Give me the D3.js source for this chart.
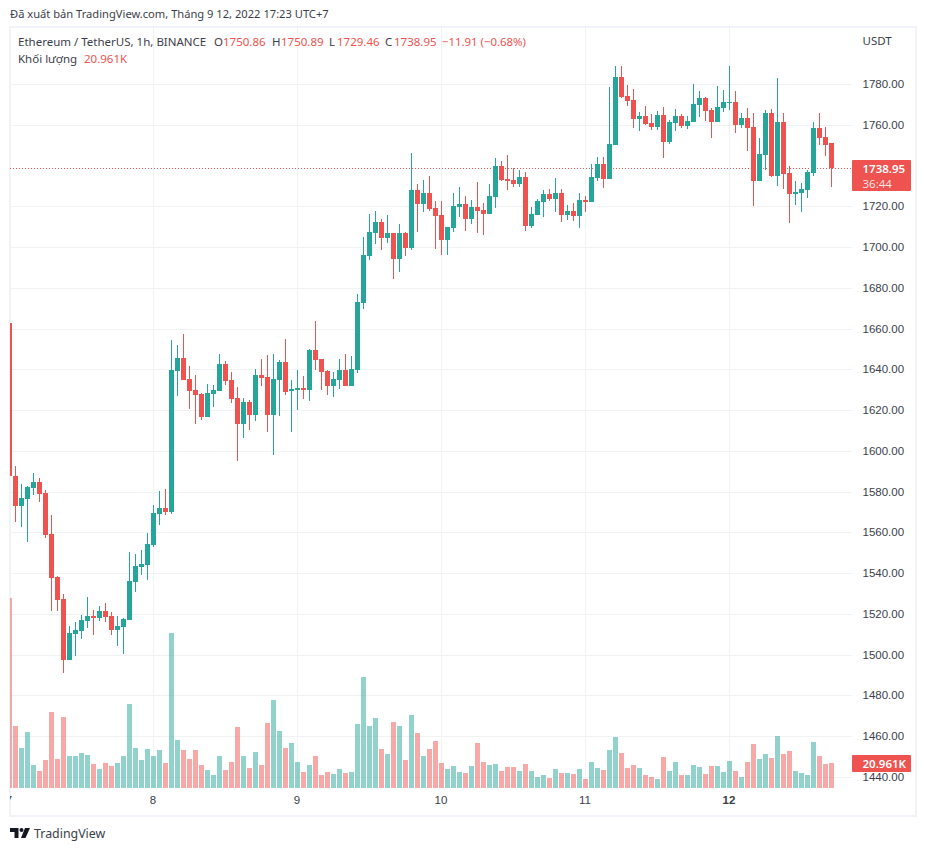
<!DOCTYPE html>
<html>
<head>
<meta charset="utf-8">
<script src="https://d3js.org/d3.v7.min.js"></script>
<style>
  html, body { margin: 0; padding: 0; background: #fff; }
  svg { display: block; font-family: "Noto Sans", sans-serif; }
  .axis path { display: none; }
  .axis line { stroke: #f1f2f4; }
  .axis text { fill: #3b3e49; font-size: 11.5px; }
</style>
</head>
<body>
<svg id="chart" width="926" height="851"></svg>
<script>
const opens = [
  1662.8, 1587.8, 1572.7, 1576.5, 1581.9, 1584.8, 1579.4, 1559.3, 1538.2, 1527.4,
  1497.5, 1510.3, 1511.8, 1516.7, 1519.1, 1518.1, 1521.6, 1519.1, 1512.2, 1513.7,
  1517.2, 1535.8, 1543.1, 1544.1, 1553.9, 1569.1, 1572.1, 1570.1, 1639.3, 1645.6,
  1635.3, 1629.9, 1628.0, 1616.7, 1628.0, 1629.4, 1642.7, 1634.8, 1626.0, 1613.3,
  1624.1, 1617.7, 1637.3, 1636.3, 1617.7, 1634.8, 1643.7, 1629.4, 1629.9, 1630.9,
  1629.9, 1649.6, 1645.1, 1639.3, 1631.9, 1634.8, 1639.8, 1631.9, 1639.7, 1672.6,
  1695.7, 1706.9, 1712.3, 1704.5, 1706.9, 1694.2, 1706.9, 1699.6, 1728.0, 1721.2,
  1726.5, 1719.2, 1715.8, 1703.5, 1709.4, 1719.7, 1721.2, 1713.8, 1719.7, 1718.2,
  1716.2, 1724.6, 1739.8, 1733.4, 1732.9, 1731.0, 1734.4, 1710.4, 1715.8, 1722.1,
  1726.0, 1723.6, 1726.5, 1715.8, 1717.7, 1715.3, 1723.1, 1722.1, 1733.9, 1740.8,
  1733.4, 1750.1, 1783.4, 1774.1, 1772.2, 1762.8, 1764.3, 1760.9, 1758.9, 1764.8,
  1751.5, 1760.9, 1764.3, 1759.4, 1761.4, 1769.7, 1773.1, 1767.3, 1761.4, 1768.2,
  1770.7, 1771.2, 1759.9, 1763.3, 1758.9, 1732.4, 1745.2, 1765.8, 1734.9, 1761.4,
  1736.4, 1726.0, 1726.5, 1728.0, 1736.4, 1758.4, 1754.0, 1750.86
];
const closes = [
  1587.5, 1572.7, 1577.0, 1582.4, 1584.8, 1578.9, 1558.8, 1537.7, 1526.9, 1497.5,
  1510.8, 1512.2, 1517.2, 1519.1, 1518.1, 1521.6, 1518.6, 1512.2, 1514.2, 1517.6,
  1536.3, 1543.6, 1544.6, 1554.4, 1569.6, 1572.1, 1570.1, 1639.8, 1645.6, 1634.8,
  1629.4, 1627.5, 1616.7, 1628.5, 1629.9, 1642.7, 1634.3, 1625.5, 1613.3, 1624.1,
  1617.7, 1637.3, 1635.8, 1617.7, 1635.3, 1643.7, 1629.0, 1630.4, 1630.9, 1629.9,
  1649.6, 1644.7, 1638.8, 1631.9, 1635.3, 1639.8, 1631.9, 1640.2, 1673.1, 1696.1,
  1707.4, 1712.3, 1704.5, 1706.9, 1694.2, 1706.9, 1699.6, 1728.0, 1721.2, 1726.5,
  1718.7, 1715.3, 1703.5, 1709.9, 1720.2, 1721.2, 1713.8, 1719.7, 1717.7, 1716.2,
  1725.1, 1739.8, 1732.9, 1732.4, 1731.0, 1734.4, 1710.4, 1716.2, 1722.6, 1726.0,
  1723.6, 1726.5, 1715.8, 1717.7, 1715.3, 1723.1, 1722.1, 1734.4, 1740.8, 1733.4,
  1750.6, 1783.4, 1773.6, 1771.7, 1762.8, 1764.3, 1760.4, 1758.9, 1764.8, 1751.5,
  1761.4, 1764.3, 1759.4, 1761.8, 1770.2, 1773.1, 1766.8, 1761.4, 1768.7, 1771.2,
  1771.2, 1759.9, 1763.3, 1758.4, 1732.4, 1745.7, 1765.8, 1734.9, 1761.4, 1735.9,
  1726.0, 1727.0, 1728.5, 1736.8, 1758.4, 1753.5, 1750.1, 1738.95
];
const highs = [
  1662.8, 1592.7, 1583.8, 1582.9, 1589.2, 1586.8, 1580.9, 1568.6, 1538.7, 1529.9,
  1514.2, 1516.2, 1519.6, 1528.4, 1522.0, 1524.0, 1525.5, 1521.1, 1519.1, 1518.1,
  1550.5, 1549.5, 1551.5, 1559.8, 1573.5, 1580.4, 1581.4, 1654.5, 1652.0, 1657.4,
  1641.7, 1637.3, 1628.5, 1632.9, 1632.4, 1647.6, 1644.2, 1638.8, 1631.4, 1626.0,
  1625.0, 1640.2, 1645.1, 1647.1, 1647.6, 1644.7, 1654.9, 1634.8, 1639.8, 1636.8,
  1650.0, 1663.8, 1645.1, 1639.8, 1638.8, 1645.1, 1647.6, 1646.6, 1677.0, 1705.0,
  1716.2, 1717.7, 1713.8, 1715.8, 1706.9, 1711.3, 1707.4, 1746.2, 1731.0, 1732.9,
  1734.9, 1722.6, 1722.6, 1709.9, 1726.5, 1729.5, 1725.1, 1723.1, 1731.9, 1721.6,
  1731.0, 1743.7, 1742.2, 1745.2, 1738.8, 1737.8, 1736.9, 1719.7, 1723.6, 1728.0,
  1728.5, 1733.9, 1728.5, 1720.7, 1721.6, 1726.5, 1725.1, 1740.8, 1744.2, 1744.2,
  1778.5, 1788.8, 1788.8, 1779.5, 1777.5, 1766.3, 1769.2, 1765.3, 1766.8, 1768.7,
  1762.3, 1767.7, 1765.3, 1764.3, 1780.0, 1776.6, 1773.6, 1768.2, 1779.0, 1777.1,
  1788.8, 1776.6, 1765.8, 1768.2, 1765.8, 1753.5, 1767.3, 1767.7, 1782.9, 1765.8,
  1739.8, 1732.4, 1731.4, 1737.8, 1761.4, 1765.8, 1758.9, 1750.89
];
const lows = [
  1587.5, 1565.2, 1562.7, 1555.4, 1578.5, 1575.0, 1557.4, 1521.6, 1521.6, 1491.2,
  1497.5, 1499.5, 1507.8, 1513.2, 1509.8, 1516.7, 1516.2, 1509.8, 1504.4, 1500.5,
  1517.2, 1530.9, 1539.2, 1536.8, 1552.9, 1563.7, 1568.6, 1569.1, 1627.0, 1634.8,
  1620.6, 1613.3, 1615.2, 1616.7, 1621.6, 1629.4, 1632.4, 1623.6, 1595.1, 1606.4,
  1610.3, 1614.7, 1631.9, 1609.3, 1598.1, 1617.2, 1627.5, 1609.3, 1620.1, 1625.5,
  1624.5, 1639.8, 1629.9, 1627.5, 1626.5, 1630.4, 1631.9, 1631.9, 1638.3, 1669.7,
  1693.7, 1701.5, 1698.6, 1702.0, 1684.4, 1687.8, 1695.7, 1698.6, 1707.4, 1717.2,
  1717.7, 1699.1, 1696.1, 1696.1, 1707.4, 1714.8, 1707.9, 1711.3, 1706.9, 1706.0,
  1716.2, 1719.2, 1732.4, 1728.0, 1729.5, 1729.5, 1707.9, 1709.4, 1715.8, 1714.8,
  1722.6, 1717.2, 1712.3, 1713.3, 1712.8, 1709.4, 1717.2, 1722.1, 1732.4, 1729.0,
  1733.4, 1750.1, 1773.1, 1769.2, 1758.4, 1757.0, 1759.9, 1757.4, 1757.4, 1743.7,
  1750.6, 1757.0, 1758.4, 1757.9, 1761.4, 1763.8, 1761.8, 1753.5, 1761.4, 1766.3,
  1767.3, 1756.0, 1758.4, 1747.1, 1720.2, 1732.4, 1737.8, 1734.4, 1730.0, 1728.5,
  1711.8, 1720.7, 1717.2, 1724.1, 1734.9, 1750.1, 1744.7, 1729.46
];
// volume in thousands of ETH
const volumes = [
  159.0, 52.1, 33.6, 47.0, 19.3, 14.3, 23.5, 63.8, 24.4, 59.6,
  26.9, 26.9, 29.4, 27.7, 20.2, 16.0, 21.0, 18.5, 21.0, 26.9,
  70.6, 33.6, 23.5, 32.8, 26.9, 31.9, 21.0, 129.4, 40.3, 31.9,
  24.4, 31.9, 19.3, 15.1, 10.9, 26.9, 15.1, 21.8, 51.2, 26.9,
  16.8, 30.2, 19.3, 54.6, 73.9, 47.9, 33.6, 37.8, 21.8, 13.2,
  19.0, 26.6, 10.6, 13.2, 11.5, 15.7, 12.3, 13.2, 53.5, 93.0,
  51.8, 58.5, 32.5, 28.3, 55.2, 51.8, 23.2, 61.0, 45.9, 26.6,
  32.5, 39.2, 20.7, 15.7, 18.2, 13.2, 12.3, 18.2, 37.5, 21.6,
  19.0, 19.9, 14.0, 17.4, 17.4, 14.0, 19.9, 14.0, 9.0, 10.6,
  8.1, 15.7, 12.3, 12.3, 11.5, 15.7, 7.3, 21.8, 16.8, 15.1,
  31.9, 42.8, 29.4, 16.8, 19.3, 16.8, 10.9, 9.2, 7.6, 26.0,
  14.3, 21.8, 10.9, 10.9, 19.3, 17.6, 11.8, 18.5, 18.5, 13.4,
  22.7, 14.3, 9.2, 21.8, 37.0, 24.4, 28.6, 25.2, 43.7, 28.6,
  31.1, 14.3, 12.6, 10.9, 38.6, 26.9, 20.2, 20.961
];
const priceTicks = [1440, 1460, 1480, 1500, 1520, 1540, 1560, 1580, 1600, 1620, 1640,
  1660, 1680, 1700, 1720, 1760, 1780];
const dayTicks = [0, 24, 48, 72, 96, 120];
const dayLabels = ["7", "8", "9", "10", "11", "12"];
const lastPrice = 1738.95;
const lastVolume = 20.961;

const UP = "#26a69a", DOWN = "#ef5350", TEXT = "#3b3e49";
const frame = { left: 10, top: 27, right: 916, bottom: 816 };
const paneRight = 852, paneBottom = 788;

const svg = d3.select("#chart");

svg.append("rect")
  .attr("x", frame.left).attr("y", frame.top)
  .attr("width", frame.right - frame.left).attr("height", frame.bottom - frame.top)
  .attr("fill", "none").attr("stroke", "#f0f3fa").attr("stroke-width", 2);

svg.append("clipPath").attr("id", "pane").append("rect")
  .attr("x", frame.left).attr("y", frame.top + 1)
  .attr("width", paneRight - frame.left).attr("height", frame.bottom - frame.top - 2);

const x = d3.scaleLinear().domain([0, 137]).range([9.5, 831.5]);
const y = d3.scaleLinear().domain([1440, 1780]).rangeRound([776.9, 84]);
const yVol = d3.scaleLinear().domain([0, 159]).range([paneBottom, 598]);

// horizontal grid + price labels
const yAxisG = svg.append("g").attr("class", "axis")
  .attr("transform", `translate(${paneRight},0)`)
  .call(d3.axisRight(y).tickValues(priceTicks).tickFormat(d3.format(".2f"))
    .tickSize(-(paneRight - frame.left)));
yAxisG.selectAll("text").attr("x", 10.5);

const clipped = svg.append("g").attr("clip-path", "url(#pane)");

// vertical grid + day labels
const xAxisG = clipped.append("g").attr("class", "axis")
  .attr("transform", `translate(0,${paneBottom})`)
  .call(d3.axisBottom(x).tickValues(dayTicks).tickFormat((d, i) => dayLabels[i])
    .tickSize(-(paneBottom - frame.top)).offset(0));
xAxisG.selectAll("text").attr("y", 8).attr("dx", -0.5)
  .filter((d) => d === 120).attr("font-weight", 600);

// volume
clipped.append("g").selectAll("rect")
  .data(volumes)
  .join("rect")
  .attr("x", (d, i) => x(i) - 2.5)
  .attr("width", 5)
  .attr("y", (d) => Math.round(yVol(d)))
  .attr("height", (d) => paneBottom - Math.round(yVol(d)))
  .attr("fill", (d, i) => (closes[i] >= opens[i] ? UP : DOWN))
  .attr("fill-opacity", 0.5)
  .attr("shape-rendering", "crispEdges");

// last price line
clipped.append("line")
  .attr("x1", frame.left).attr("x2", paneRight)
  .attr("y1", y(lastPrice) + 0.5).attr("y2", y(lastPrice) + 0.5)
  .attr("stroke", DOWN).attr("stroke-dasharray", "1 2");

// candles
const candles = clipped.append("g").selectAll("g")
  .data(opens)
  .join("g")
  .attr("fill", (d, i) => (closes[i] >= d ? UP : DOWN))
  .attr("shape-rendering", "crispEdges");
candles.append("rect")
  .attr("x", (d, i) => x(i) - 0.5)
  .attr("width", 1)
  .attr("y", (d, i) => y(highs[i]))
  .attr("height", (d, i) => y(lows[i]) - y(highs[i]));
candles.append("rect")
  .attr("x", (d, i) => x(i) - 2.5)
  .attr("width", 5)
  .attr("y", (d, i) => y(Math.max(d, closes[i])))
  .attr("height", (d, i) => Math.max(1, y(Math.min(d, closes[i])) - y(Math.max(d, closes[i]))));

// price + volume tags on the scale
const tags = svg.append("g");
tags.append("rect").attr("x", paneRight).attr("y", y(lastPrice) - 8)
  .attr("width", 59).attr("height", 31).attr("rx", 1).attr("fill", DOWN);
tags.append("text").attr("x", 862.5).attr("y", y(lastPrice) + 5)
  .attr("fill", "#fff").attr("font-size", 11.5).attr("font-weight", 600)
  .text(d3.format(".2f")(lastPrice));
tags.append("text").attr("x", 862.5).attr("y", y(lastPrice) + 20)
  .attr("fill", "#fff").attr("fill-opacity", 0.85).attr("font-size", 11.5)
  .text("36:44");
tags.append("rect").attr("x", paneRight).attr("y", yVol(lastVolume) - 8)
  .attr("width", 59).attr("height", 17).attr("rx", 1).attr("fill", DOWN);
tags.append("text").attr("x", 862.5).attr("y", yVol(lastVolume) + 5)
  .attr("fill", "#fff").attr("font-size", 11.5).attr("font-weight", 600)
  .text(lastVolume + "K");

// text
const label = (str, px, py, fill, size) =>
  svg.append("text").attr("x", px).attr("y", py)
    .attr("fill", fill).attr("font-size", size || 11.5).text(str);

label("Đã xuất bản TradingView.com, Tháng 9 12, 2022 17:23 UTC+7", 10, 18, TEXT, 11.15);
label("USDT", 862.5, 45, TEXT);

label("Ethereum / TetherUS, 1h, BINANCE", 18, 46, TEXT);
label("O", 214, 46, TEXT);
label("1750.86", 223, 46, DOWN);
label("H", 272, 46, TEXT);
label("1750.89", 281, 46, DOWN);
label("L", 329, 46, TEXT);
label("1729.46", 337, 46, DOWN);
label("C", 385, 46, TEXT);
label("1738.95", 394, 46, DOWN);
label("−11.91 (−0.68%)", 442, 46, DOWN, 11.4);
label("Khối lượng", 18, 63, TEXT);
label("20.961K", 84, 63, DOWN);

// logo
const logo = svg.append("g").attr("fill", "#131722");
logo.append("path").attr("d", "M10 828h8.5v10h-4v-6h-4.5z");
logo.append("circle").attr("cx", 21.5).attr("cy", 830).attr("r", 2);
logo.append("path").attr("d", "M25 828h5l-4.5 10h-4.5z");
label("TradingView", 34, 838, TEXT, 12.4);
</script>
</body>
</html>
